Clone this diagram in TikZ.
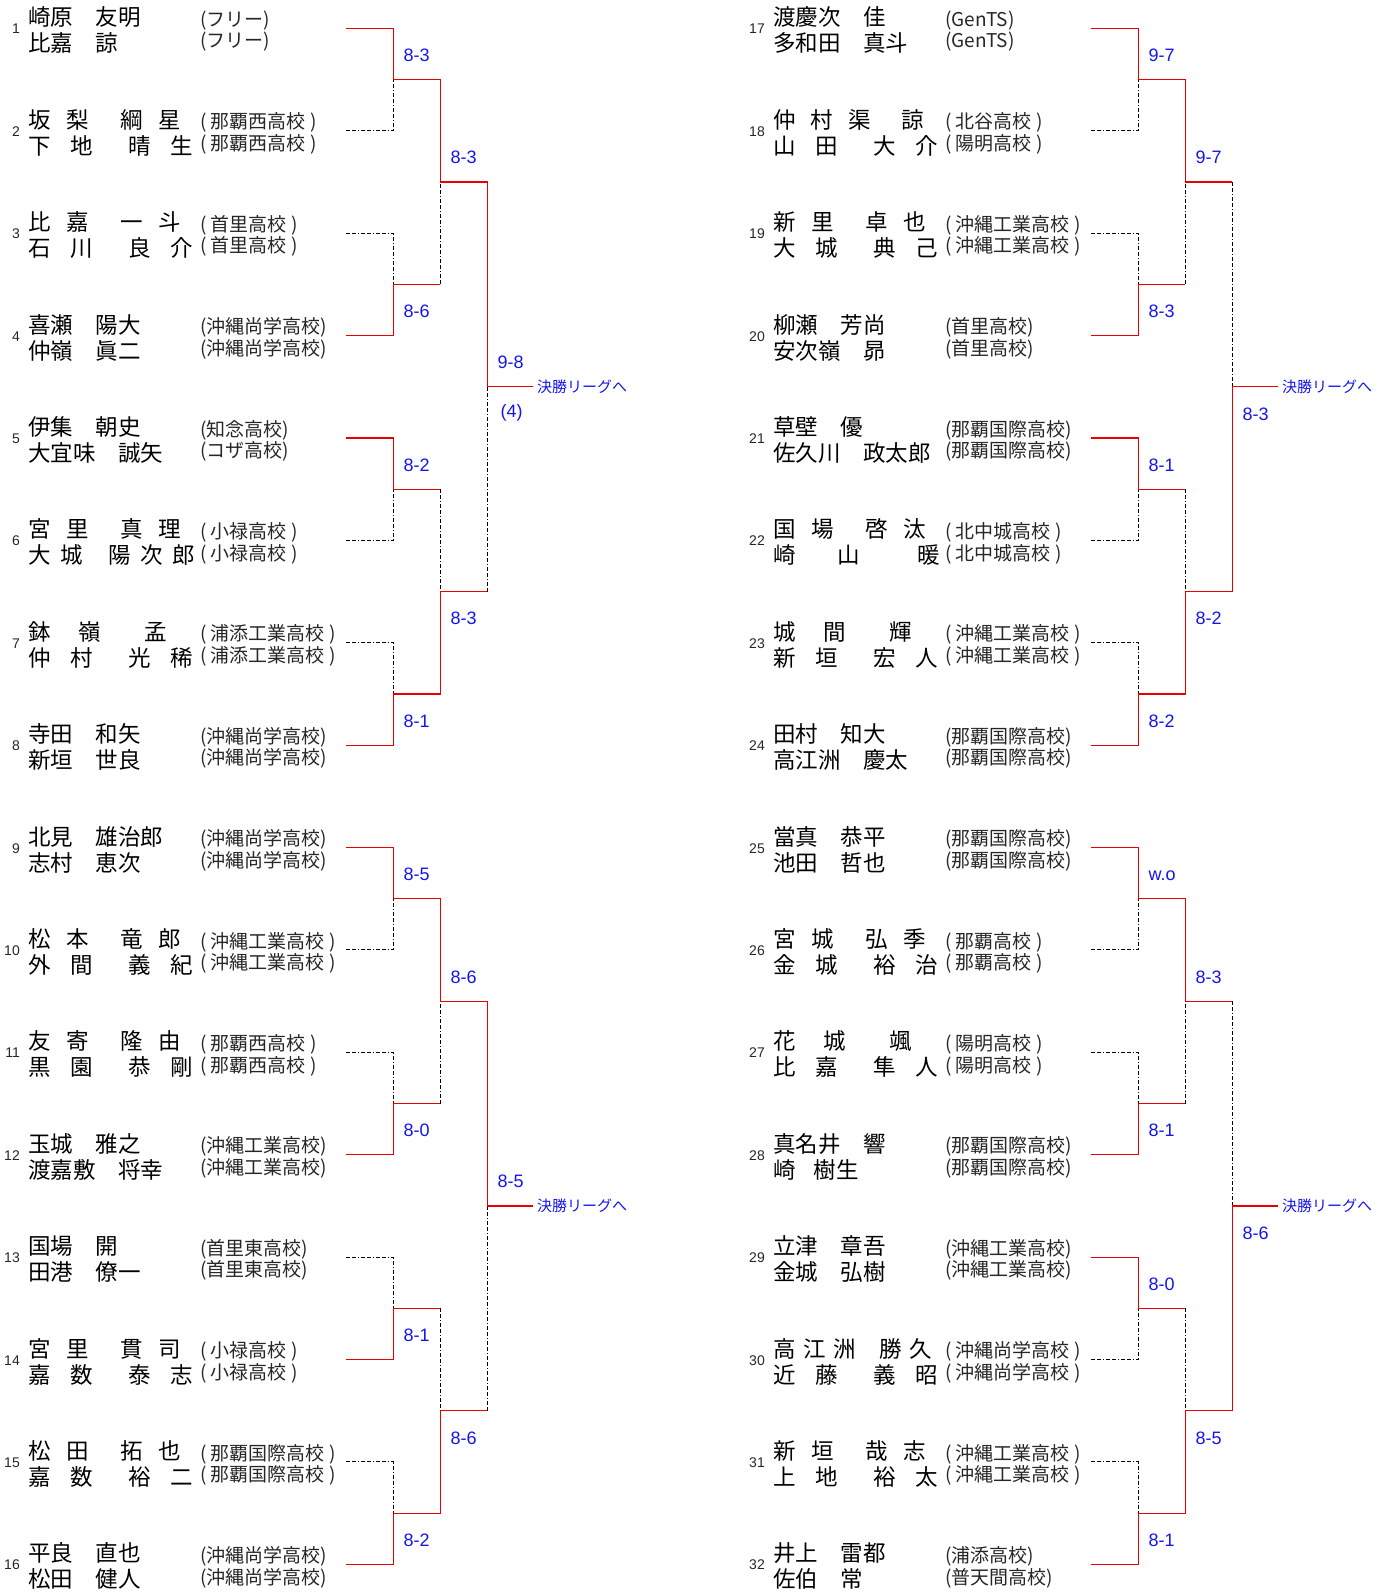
\documentclass[tikz,border=0pt]{standalone}
\usepackage{fontspec}
\setmainfont{Liberation Sans}
\newfontfamily\jpfont{Noto Sans CJK JP}
\usepackage{tikz}
\usetikzlibrary{calc}
\definecolor{scoreblue}{RGB}{20,20,240}
\definecolor{winred}{RGB}{232,0,0}
\makeatletter
\newcommand\pitched[2]{\@tfor\pch:=#2\do{\makebox[#1pt][l]{\pch}}}
\makeatother
\newcommand\spn[3]{\pitched{#1}{#2}\hspace{16pt}\pitched{#1}{#3}}

\begin{document}
\begin{tikzpicture}[x=1pt,y=-1pt,
	win/.style={winred, line width=1.2pt},
	lose/.style={black, line width=0.9pt, dash pattern=on 4pt off 2pt on 4pt off 2pt on 1pt off 2pt},
	num/.style={anchor=base east, inner sep=0pt, text=black!85, font=\fontsize{14}{14}\selectfont},
	nm/.style={anchor=base west, inner sep=0pt, font=\jpfont\fontsize{22.5}{22.5}\selectfont},
	sch/.style={anchor=base west, inner sep=0pt, text=black!85, font=\jpfont\fontsize{19}{19}\selectfont},
	score/.style={anchor=base west, inner sep=0pt, text=scoreblue, font=\fontsize{18}{18}\selectfont},
	toleague/.style={anchor=west, inner sep=0pt, text=scoreblue, font=\jpfont\fontsize{15}{15}\selectfont}]
	\useasboundingbox (0,0) rectangle (1390,1592);
	% players
	\foreach \i/\nmA/\nmB/\scA/\scB [count=\r from 0] in {
		1/{崎原　友明}/{比嘉　諒}/{(フリー)}/{(フリー)},
		2/{\spn{38}{坂梨}{綱星}}/{\spn{42}{下地}{晴生}}/{( 那覇西高校 )}/{( 那覇西高校 )},
		3/{\spn{38}{比嘉}{一斗}}/{\spn{42}{石川}{良介}}/{( 首里高校 )}/{( 首里高校 )},
		4/{喜瀬　陽大}/{仲嶺　眞二}/{(沖縄尚学高校)}/{(沖縄尚学高校)},
		5/{伊集　朝史}/{大宜味　誠矢}/{(知念高校)}/{(コザ高校)},
		6/{\spn{38}{宮里}{真理}}/{\spn{32}{大城}{陽次郎}}/{( 小禄高校 )}/{( 小禄高校 )},
		7/{\spn{50}{鉢嶺}{孟}}/{\spn{42}{仲村}{光稀}}/{( 浦添工業高校 )}/{( 浦添工業高校 )},
		8/{寺田　和矢}/{新垣　世良}/{(沖縄尚学高校)}/{(沖縄尚学高校)},
		9/{北見　雄治郎}/{志村　恵次}/{(沖縄尚学高校)}/{(沖縄尚学高校)},
		10/{\spn{38}{松本}{竜郎}}/{\spn{42}{外間}{義紀}}/{( 沖縄工業高校 )}/{( 沖縄工業高校 )},
		11/{\spn{38}{友寄}{隆由}}/{\spn{42}{黒園}{恭剛}}/{( 那覇西高校 )}/{( 那覇西高校 )},
		12/{玉城　雅之}/{渡嘉敷　将幸}/{(沖縄工業高校)}/{(沖縄工業高校)},
		13/{国場　開}/{田港　僚一}/{(首里東高校)}/{(首里東高校)},
		14/{\spn{38}{宮里}{貫司}}/{\spn{42}{嘉数}{泰志}}/{( 小禄高校 )}/{( 小禄高校 )},
		15/{\spn{38}{松田}{拓也}}/{\spn{42}{嘉数}{裕二}}/{( 那覇国際高校 )}/{( 那覇国際高校 )},
		16/{平良　直也}/{松田　健人}/{(沖縄尚学高校)}/{(沖縄尚学高校)},
		17/{渡慶次　佳}/{多和田　真斗}/{(GenTS)}/{(GenTS)},
		18/{\spn{37.5}{仲村渠}{諒}}/{\spn{42}{山田}{大介}}/{( 北谷高校 )}/{( 陽明高校 )},
		19/{\spn{38}{新里}{卓也}}/{\spn{42}{大城}{典己}}/{( 沖縄工業高校 )}/{( 沖縄工業高校 )},
		20/{柳瀬　芳尚}/{安次嶺　昴}/{(首里高校)}/{(首里高校)},
		21/{草壁　優}/{佐久川　政太郎}/{(那覇国際高校)}/{(那覇国際高校)},
		22/{\spn{38}{国場}{啓汰}}/{\spn{64}{崎山}{暖}}/{( 北中城高校 )}/{( 北中城高校 )},
		23/{\spn{50}{城間}{輝}}/{\spn{42}{新垣}{宏人}}/{( 沖縄工業高校 )}/{( 沖縄工業高校 )},
		24/{田村　知大}/{高江洲　慶太}/{(那覇国際高校)}/{(那覇国際高校)},
		25/{當真　恭平}/{池田　哲也}/{(那覇国際高校)}/{(那覇国際高校)},
		26/{\spn{38}{宮城}{弘季}}/{\spn{42}{金城}{裕治}}/{( 那覇高校 )}/{( 那覇高校 )},
		27/{\spn{50}{花城}{颯}}/{\spn{42}{比嘉}{隼人}}/{( 陽明高校 )}/{( 陽明高校 )},
		28/{真名井　響}/{崎\hspace{18pt}樹生}/{(那覇国際高校)}/{(那覇国際高校)},
		29/{立津　章吾}/{金城　弘樹}/{(沖縄工業高校)}/{(沖縄工業高校)},
		30/{\spn{30}{高江洲}{勝久}}/{\spn{42}{近藤}{義昭}}/{( 沖縄尚学高校 )}/{( 沖縄尚学高校 )},
		31/{\spn{38}{新垣}{哉志}}/{\spn{42}{上地}{裕太}}/{( 沖縄工業高校 )}/{( 沖縄工業高校 )},
		32/{井上　雷都}/{佐伯　常}/{(浦添高校)}/{(普天間高校)}} {
		\pgfmathsetmacro\yy{28.3+mod(\r,16)*102.4}
		\pgfmathsetmacro\xx{\r<16 ? 0 : 745}
		\node[num] (k\i) at (20+\xx,\yy+5.5) {\i};
		\node[nm] (n\i-1) at (28+\xx,\yy-2.5) {\nmA};
		\node[nm] (n\i-2) at (28+\xx,\yy+23.5) {\nmB};
		\node[sch] (s\i-1) at (200+\xx,\yy-1.8) {\scA};
		\node[sch] (s\i-2) at (200+\xx,\yy+19.7) {\scB};
		\coordinate (p\i) at (346+\xx,\yy);
	}
	% first round
	\foreach \m/\w/\sc in {1/1/8-3, 2/2/8-6, 3/1/8-2, 4/2/8-1, 5/1/8-5, 6/2/8-0, 7/2/8-1, 8/2/8-2,
		9/1/9-7, 10/2/8-3, 11/1/8-1, 12/2/8-2, 13/1/w.o, 14/2/8-1, 15/1/8-0, 16/2/8-1} {
		\pgfmathtruncatemacro\ta{2*\m-1}
		\pgfmathtruncatemacro\tb{2*\m}
		\pgfmathtruncatemacro\wi{2*\m-2+\w}
		\pgfmathtruncatemacro\lo{2*\m+1-\w}
		\pgfmathsetmacro\dy{\w==1 ? -18 : 33.4}
		\coordinate (a\m) at ($(p\ta)!0.5!(p\tb)+(47.3,0)$);
		\draw[lose] (p\lo) -| (a\m);
		\draw[win] (p\wi) -| (a\m);
		\node[score] (sa\m) at ([shift={(10,\dy)}]a\m) {\sc};
	}
	% second round
	\foreach \m/\w/\sc in {1/1/8-3, 2/2/8-3, 3/1/8-6, 4/2/8-6, 5/1/9-7, 6/2/8-2, 7/1/8-3, 8/2/8-5} {
		\pgfmathtruncatemacro\ta{2*\m-1}
		\pgfmathtruncatemacro\tb{2*\m}
		\pgfmathtruncatemacro\wi{2*\m-2+\w}
		\pgfmathtruncatemacro\lo{2*\m+1-\w}
		\pgfmathsetmacro\dy{\w==1 ? -18 : 33.4}
		\coordinate (b\m) at ($(a\ta)!0.5!(a\tb)+(47,0)$);
		\draw[win] (a\lo) -- (a\lo -| b\m);
		\draw[lose] (a\lo -| b\m) -- (b\m);
		\draw[win] (a\wi) -| (b\m);
		\node[score] (sb\m) at ([shift={(10,\dy)}]b\m) {\sc};
	}
	% block finals
	\foreach \m/\w/\sc in {1/1/9-8, 2/1/8-5, 3/2/8-3, 4/2/8-6} {
		\pgfmathtruncatemacro\ta{2*\m-1}
		\pgfmathtruncatemacro\tb{2*\m}
		\pgfmathtruncatemacro\wi{2*\m-2+\w}
		\pgfmathtruncatemacro\lo{2*\m+1-\w}
		\pgfmathsetmacro\dy{\w==1 ? -18 : 33.4}
		\coordinate (c\m) at ($(b\ta)!0.5!(b\tb)+(47,0)$);
		\coordinate (f\m) at ($(c\m)+(46,0)$);
		\draw[win] (b\lo) -- (b\lo -| c\m);
		\draw[lose] (b\lo -| c\m) -- (c\m);
		\draw[win] (b\wi) -| (c\m);
		\draw[win] (c\m) -- (f\m);
		\node[score] (sc\m) at ([shift={(10,\dy)}]c\m) {\sc};
		\node[toleague] (g\m) at ([xshift=3.5pt]f\m) {決勝リーグへ};
	}
	\node[score] (extra) at ([shift={(13,31)}]c1) {(4)};
\end{tikzpicture}
\end{document}
